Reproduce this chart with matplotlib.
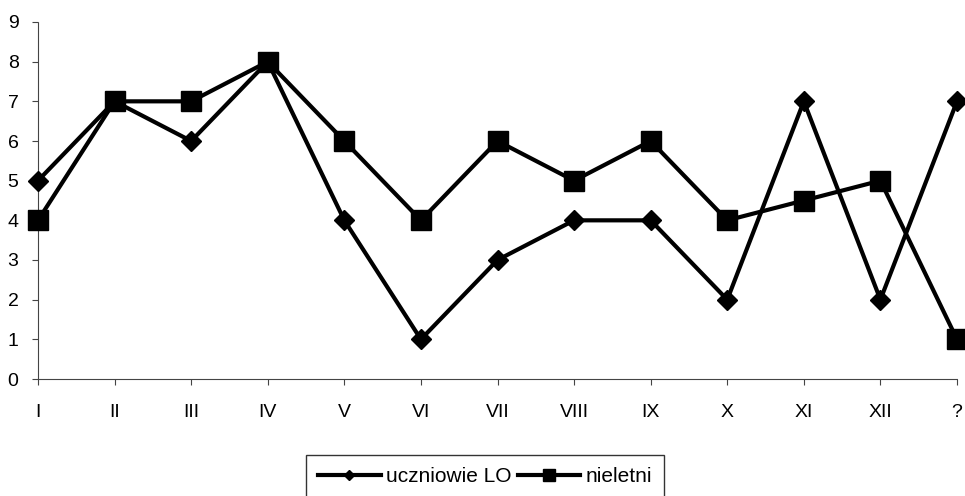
import matplotlib
matplotlib.use("Agg")
import matplotlib.pyplot as plt

categories = ["I", "II", "III", "IV", "V", "VI", "VII", "VIII", "IX", "X", "XI", "XII", "?"]
uczniowie = [5, 7, 6, 8, 4, 1, 3, 4, 4, 2, 7, 2, 7]
nieletni = [4, 7, 7, 8, 6, 4, 6, 5, 6, 4, 4.5, 5, 1]
yticks = list(range(0, 10))

plt.rcParams['font.family'] = ['Liberation Sans', 'DejaVu Sans']

fig = plt.figure(figsize=(9.65, 4.96), dpi=100)
ax = fig.add_axes([38/965, 1-379/496, (957-38)/965, (379-22)/496])
x = list(range(len(categories)))
ax.plot(x, uczniowie, color='black', lw=3, marker='D', ms=10, label='uczniowie LO', clip_on=False, zorder=3)
ax.plot(x, nieletni, color='black', lw=3, marker='s', ms=15, label='nieletni', clip_on=False, zorder=3)

ax.set_xlim(0, len(categories)-1)
ax.set_ylim(0, 9)
ax.set_xticks(x)
ax.set_xticklabels(categories, fontsize=14)
ax.set_yticks(yticks)
ax.set_yticklabels([str(v) for v in yticks], fontsize=14)
for s in ['top', 'right']:
    ax.spines[s].set_visible(False)
for s in ['left', 'bottom']:
    ax.spines[s].set_linestyle((0, (6, 1, 1, 1)))
    ax.spines[s].set_linewidth(0.8)
    ax.spines[s].set_color('#444444')
ax.tick_params(axis='both', direction='out', length=4, width=0.8, color='#444444')
ax.tick_params(axis='x', pad=14)
ax.tick_params(axis='y', pad=10)

leg = fig.legend(loc='upper center', bbox_to_anchor=(485/965, 1-455/496), ncol=2, fontsize=15,
                 frameon=True, fancybox=False, edgecolor='black', handlelength=3,
                 columnspacing=0.3, handletextpad=0.25, borderpad=0.6, borderaxespad=0,
                 markerscale=0.55)
leg.get_frame().set_linewidth(1.0)

fig.savefig("out.png", dpi=100)
